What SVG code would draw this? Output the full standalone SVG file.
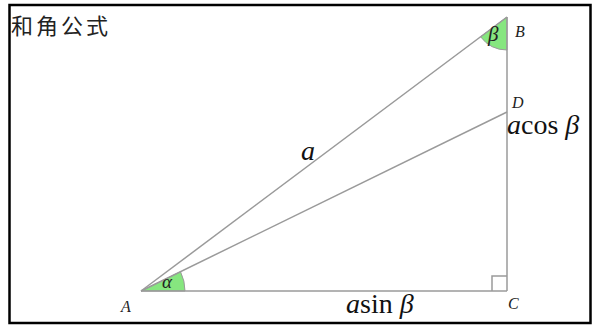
<svg xmlns="http://www.w3.org/2000/svg" width="597" height="329" viewBox="0 0 597 329">
<style>
.ln{stroke:#9a9a9a;stroke-width:1.5;fill:none}
.wedge{fill:#86e67f;stroke:#9a9a9a;stroke-width:1}
.lbl{font-family:"Liberation Serif","Times New Roman",serif;font-style:italic;fill:#222;font-size:16px}
.big{font-family:"Liberation Serif","Times New Roman",serif;fill:#111;font-size:28px}
.it{font-style:italic}
</style>
<rect x="0" y="0" width="597" height="329" fill="#fff"/>
<rect x="9.5" y="5" width="581" height="318" fill="none" stroke="#000" stroke-width="2.5"/>
<text x="11" y="34" font-family="'Noto Sans CJK SC',sans-serif" font-size="22" letter-spacing="3" fill="#222">和角公式</text>
<g id="angles">
<path class="wedge" d="M141,291 L185,291 A44,44 0 0 0 180.5,271.7 Z"/>
<path class="wedge" d="M507,17 L480.6,36.8 A33,33 0 0 0 507,50 Z"/>
</g>
<g id="connectors">
<line class="ln" x1="141" y1="291" x2="507" y2="17"/>
<line class="ln" x1="141" y1="291" x2="507" y2="112"/>
<line class="ln" x1="141" y1="291" x2="507" y2="291"/>
<line class="ln" x1="507" y1="17" x2="507" y2="291"/>
<polyline class="ln" points="492,291 492,276 507,276"/>
</g>
<g id="A"><text class="lbl" x="121" y="312">A</text></g>
<g id="B"><text class="lbl" x="515" y="37">B</text></g>
<g id="C"><text class="lbl" x="508" y="309">C</text></g>
<g id="D"><text class="lbl" x="512" y="108">D</text></g>
<g id="labels">
<text class="big it" x="301" y="160">a</text>
<text x="162" y="288" font-family="'Liberation Serif',serif" font-style="italic" font-size="19" fill="#222">α</text>
<text x="488" y="41" font-family="'Liberation Serif',serif" font-style="italic" font-size="21" fill="#222">β</text>
<text class="big" x="507" y="134"><tspan class="it">a</tspan>cos <tspan class="it">β</tspan></text>
<text class="big" x="346" y="313"><tspan class="it">a</tspan>sin <tspan class="it">β</tspan></text>
</g>
</svg>
